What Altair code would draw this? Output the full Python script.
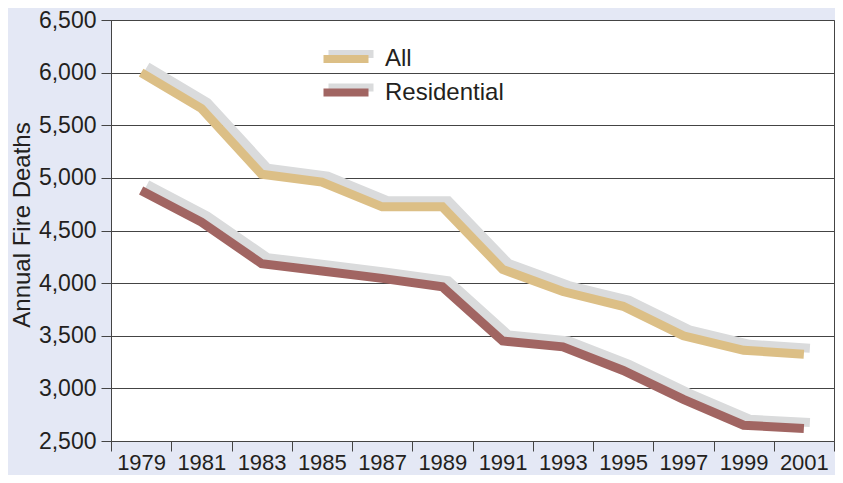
import altair as alt
import pandas as pd

# ---- data ----
years = [1979, 1981, 1983, 1985, 1987, 1989, 1991, 1993, 1995, 1997, 1999, 2001]
all_deaths = [6000, 5660, 5035, 4960, 4725, 4725, 4130, 3920, 3780, 3500, 3362, 3325]
res_deaths = [4880, 4580, 4185, 4115, 4045, 3965, 3450, 3395, 3170, 2895, 2650, 2618]
series = ["All", "Residential"]
series_colors = ["#dcbf86", "#a16562"]
shadow_color = "#dadbdc"
y_ticks = [2500, 3000, 3500, 4000, 4500, 5000, 5500, 6000, 6500]
x_ticks = list(range(1978, 2003, 2))

rows = []
for y, a, r in zip(years, all_deaths, res_deaths):
    rows.append({"year": y, "deaths": a, "series": "All", "shadow": "All"})
    rows.append({"year": y, "deaths": r, "series": "Residential", "shadow": "Residential"})
df = pd.DataFrame(rows)

FONT = "Liberation Sans"
TXT = "#231f20"
GRID = "#444444"
BG = "#e4e8f5"
TOP = 12
H = 421

x_enc = alt.X(
    "year:Q",
    scale=alt.Scale(domain=[1978, 2002], nice=False, zero=False),
    axis=alt.Axis(
        values=x_ticks,
        labelExpr="datum.value < 2002 ? '' + (datum.value + 1) : ''",
        labelOffset=30.1,
        labelFlush=False,
        labelOverlap=False,
        grid=False,
        tickSize=10,
        labelPadding=1,
        labelFontSize=22,
        labelFont=FONT,
        labelColor=TXT,
        domainColor=GRID,
        tickColor=GRID,
        title=None,
    ),
)
y_enc = alt.Y(
    "deaths:Q",
    scale=alt.Scale(domain=[2500, 6500], nice=False, zero=False),
    axis=alt.Axis(
        values=y_ticks,
        format=",d",
        labelFlush=False,
        grid=True,
        gridColor=GRID,
        gridOpacity=1,
        tickSize=10,
        labelPadding=5,
        labelFontSize=23,
        labelFont=FONT,
        labelColor=TXT,
        domainColor=GRID,
        tickColor=GRID,
        title="Annual Fire Deaths",
        titleFont=FONT,
        titleFontSize=24,
        titleFontWeight="normal",
        titleColor=TXT,
        titleX=-82,
        titleY=H / 2 - 6,
        titleBaseline="alphabetic",
    ),
)

SYM = "M-2.5,0H2.5"
LX, LY = 222, 26

shadow = alt.Chart(df).mark_line(
    strokeWidth=9, xOffset=6, yOffset=-6, strokeJoin="miter", strokeCap="butt"
).encode(
    x=x_enc,
    y=y_enc,
    color=alt.Color(
        "shadow:N",
        scale=alt.Scale(domain=series, range=[shadow_color, shadow_color]),
        legend=alt.Legend(
            orient="none", legendX=LX + 5, legendY=LY - 5, title=None,
            symbolType=SYM, symbolSize=324, symbolStrokeWidth=8,
            labelFontSize=24, labelFont=FONT, labelExpr="''",
            rowPadding=1.5, labelOffset=26, padding=0, zindex=1,
        ),
    ),
)

lines = alt.Chart(df).mark_line(
    strokeWidth=9, strokeJoin="miter", strokeCap="butt"
).encode(
    x=x_enc,
    y=y_enc,
    color=alt.Color(
        "series:N",
        scale=alt.Scale(domain=series, range=series_colors),
        legend=alt.Legend(
            orient="none", legendX=LX, legendY=LY, title=None,
            symbolType=SYM, symbolSize=324, symbolStrokeWidth=8,
            labelFontSize=24, labelFont=FONT, labelColor=TXT,
            rowPadding=1.5, labelOffset=26, padding=0, zindex=2,
        ),
    ),
)

chart = (
    alt.layer(shadow, lines)
    .resolve_scale(color="independent")
    .properties(
        width=723,
        height=H,
        background=BG,
        padding={"left": 103, "top": TOP, "right": 1, "bottom": 467 - TOP - H},
        autosize=alt.AutoSizeParams(type="none"),
    )
    .configure_view(fill="white", stroke=GRID, strokeWidth=1)
)

chart.save("out.html", embed_options={"renderer": "svg", "actions": False})
